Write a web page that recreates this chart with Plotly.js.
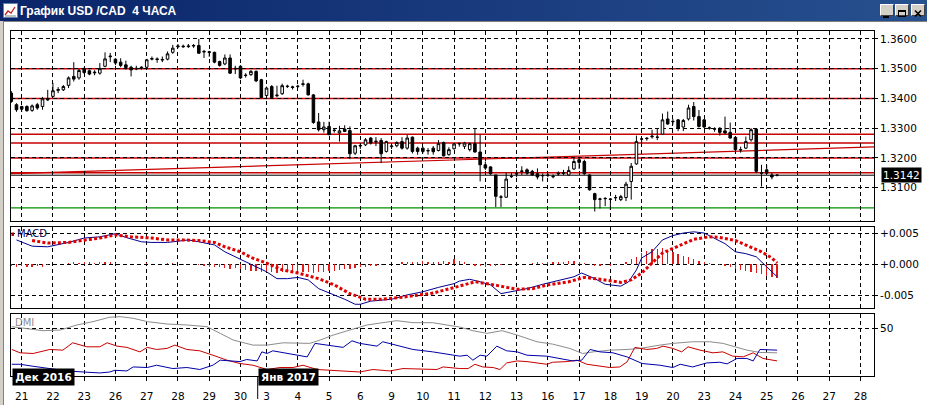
<!DOCTYPE html>
<html>
<head>
<meta charset="utf-8">
<script src="https://cdn.plot.ly/plotly-3.0.1.min.js"></script>
<style>
  html,body{margin:0;padding:0;}
  body{width:927px;height:405px;overflow:hidden;background:#fff;position:relative;}
  #titlebar{position:absolute;left:0;top:0;width:927px;height:21px;background:linear-gradient(to right,#0a246a,#27508f);}
  #leftframe{position:absolute;left:0;top:21px;width:3px;height:384px;background:#d4d0c8;border-right:1px solid #808080;}
  #topline{position:absolute;left:0;top:21px;width:927px;height:1px;background:#808080;}
  #icon{position:absolute;left:3px;top:3px;}
  .btn{position:absolute;top:4px;width:14px;height:12px;background:#d4d0c8;
       border-top:1px solid #fff;border-left:1px solid #fff;border-right:1px solid #404040;border-bottom:1px solid #404040;box-sizing:border-box;}
  #chart{position:absolute;left:0;top:0;width:927px;height:405px;}
</style>
</head>
<body>
<div id="titlebar"></div>
<div id="topline"></div>
<div id="leftframe"></div>
<svg id="icon" width="15" height="15" viewBox="0 0 15 15">
  <rect x="0.5" y="0.5" width="14" height="14" fill="#fff" stroke="#6080b0"/>
  <polyline points="2,12 5,8 8,10 12,4" fill="none" stroke="#d02020" stroke-width="1.3"/>
  <polyline points="2,13 13,13" stroke="#808080" stroke-width="1"/>
</svg>
<div class="btn" style="left:880px;"><svg width="12" height="10"><rect x="2" y="7" width="6" height="2" fill="#000"/></svg></div>
<div class="btn" style="left:895px;"><svg width="12" height="10"><rect x="2.5" y="1.5" width="7" height="6" fill="none" stroke="#000"/><rect x="2" y="1" width="8" height="2" fill="#000"/></svg></div>
<div class="btn" style="left:911px;"><svg width="12" height="10"><path d="M3,1.5 L9,7.5 M9,1.5 L3,7.5" stroke="#000" stroke-width="1.6"/></svg></div>
<div id="chart"></div>
<script>
// ---------- day grid / x tick labels (bar index of first 4H bar of each day) ----------
const dayTicks  = [0,6,12,18,24,30,36,42,47,53,59,65,71,77,83,89,95,101,107,113,119,125,131,137,143,149,155,161];
const dayLabels = ['21','22','23','26','27','28','29','30','3','4','5','6','9','10','11','12','13','16','17','18','19','20','23','24','25','26','27','28'];

// ---------- price axis ----------
const priceTicks  = [1.31,1.32,1.33,1.34,1.35,1.36];
const priceLabels = ['1.3100','1.3200','1.3300','1.3400','1.3500','1.3600'];
const lastPrice = 1.3142;
const redLevels = [1.3500,1.3400,1.3280,1.3250,1.3200,1.3150];
const greenLevel = 1.3032;
const trendX = [-2.25,163.6];
const trendY = [1.3147,1.3237];

// ---------- 4H candles USD/CAD (first bar = 2 bars before Dec 21) ----------
const open = [
1.3418,1.3379,
1.3373,1.3373,1.3360,1.3379,1.3373,1.3395,
1.3407,1.3427,1.3429,1.3444,1.3474,1.3469,
1.3500,1.3493,1.3486,1.3485,1.3508,1.3540,
1.3532,1.3522,1.3513,1.3505,1.3499,1.3501,
1.3505,1.3532,1.3533,1.3529,1.3532,1.3555,
1.3574,1.3576,1.3574,1.3576,1.3578,1.3556,
1.3557,1.3555,1.3524,1.3516,1.3536,1.3499,
1.3508,1.3477,1.3480,1.3491,1.3463,
1.3410,1.3440,1.3409,1.3416,1.3440,1.3439,
1.3440,1.3447,1.3449,1.3412,1.3321,1.3295,
1.3306,1.3292,1.3284,1.3297,1.3292,1.3216,
1.3240,1.3244,1.3267,1.3254,1.3259,1.3222,
1.3238,1.3241,1.3255,1.3233,1.3270,1.3233,
1.3233,1.3225,1.3233,1.3225,1.3252,1.3211,
1.3231,1.3247,1.3239,1.3228,1.3248,1.3220,
1.3177,1.3170,1.3143,1.3068,1.3068,1.3137,
1.3146,1.3155,1.3160,1.3155,1.3147,1.3140,
1.3141,1.3138,1.3146,1.3148,1.3143,1.3163,
1.3194,1.3188,1.3143,1.3080,1.3061,1.3063,
1.3062,1.3066,1.3060,1.3067,1.3121,1.3180,
1.3263,1.3265,1.3271,1.3269,1.3280,1.3331,
1.3322,1.3328,1.3304,1.3331,1.3373,1.3339,
1.3328,1.3300,1.3298,1.3300,1.3291,1.3286,
1.3269,1.3227,1.3233,1.3261,1.3297,1.3150,
1.3160,1.3143,1.3142];
const high = [
1.3425,1.3384,
1.3375,1.3377,1.3380,1.3385,1.3405,1.3429,
1.3452,1.3438,1.3445,1.3474,1.3522,1.3500,
1.3505,1.3497,1.3495,1.3519,1.3555,1.3553,
1.3535,1.3535,1.3527,1.3510,1.3510,1.3508,
1.3533,1.3541,1.3538,1.3541,1.3558,1.3580,
1.3583,1.3581,1.3583,1.3583,1.3600,1.3563,
1.3560,1.3557,1.3527,1.3548,1.3548,1.3510,
1.3512,1.3485,1.3495,1.3494,1.3466,
1.3440,1.3445,1.3443,1.3450,1.3446,1.3443,
1.3446,1.3463,1.3453,1.3415,1.3351,1.3321,
1.3322,1.3300,1.3308,1.3310,1.3306,1.3244,
1.3250,1.3267,1.3270,1.3270,1.3267,1.3258,
1.3245,1.3256,1.3270,1.3278,1.3272,1.3238,
1.3238,1.3233,1.3240,1.3260,1.3255,1.3236,
1.3250,1.3250,1.3254,1.3252,1.3300,1.3278,
1.3188,1.3172,1.3143,1.3075,1.3151,1.3149,
1.3160,1.3172,1.3165,1.3160,1.3165,1.3148,
1.3148,1.3145,1.3155,1.3160,1.3172,1.3199,
1.3200,1.3194,1.3145,1.3083,1.3066,1.3068,
1.3065,1.3076,1.3076,1.3120,1.3183,1.3275,
1.3267,1.3270,1.3295,1.3300,1.3349,1.3356,
1.3331,1.3331,1.3331,1.3379,1.3388,1.3361,
1.3331,1.3306,1.3303,1.3303,1.3339,1.3319,
1.3272,1.3238,1.3272,1.3300,1.3297,1.3177,
1.3177,1.3150,1.3146];
const low = [
1.3385,1.3355,
1.3355,1.3355,1.3355,1.3362,1.3362,1.3392,
1.3403,1.3418,1.3425,1.3435,1.3457,1.3463,
1.3482,1.3478,1.3478,1.3480,1.3505,1.3522,
1.3512,1.3505,1.3497,1.3474,1.3495,1.3497,
1.3500,1.3528,1.3520,1.3522,1.3528,1.3550,
1.3569,1.3570,1.3570,1.3570,1.3550,1.3536,
1.3540,1.3518,1.3507,1.3512,1.3482,1.3482,
1.3465,1.3470,1.3476,1.3455,1.3400,
1.3398,1.3400,1.3404,1.3412,1.3435,1.3430,
1.3435,1.3440,1.3410,1.3315,1.3289,1.3285,
1.3278,1.3285,1.3255,1.3287,1.3196,1.3210,
1.3230,1.3240,1.3245,1.3240,1.3183,1.3218,
1.3230,1.3236,1.3228,1.3228,1.3215,1.3211,
1.3215,1.3211,1.3211,1.3222,1.3205,1.3208,
1.3228,1.3238,1.3230,1.3222,1.3218,1.3121,
1.3160,1.3143,1.3035,1.3035,1.3066,1.3133,
1.3135,1.3143,1.3143,1.3140,1.3128,1.3121,
1.3135,1.3132,1.3140,1.3142,1.3141,1.3160,
1.3163,1.3143,1.3090,1.3020,1.3030,1.3038,
1.3025,1.3055,1.3055,1.3055,1.3060,1.3177,
1.3250,1.3258,1.3265,1.3260,1.3278,1.3312,
1.3312,1.3290,1.3290,1.3326,1.3326,1.3302,
1.3300,1.3295,1.3288,1.3275,1.3280,1.3265,
1.3216,1.3218,1.3230,1.3255,1.3149,1.3104,
1.3146,1.3128,1.3138];
const close = [
1.3390,1.3362,
1.3364,1.3359,1.3375,1.3368,1.3399,1.3397,
1.3426,1.3430,1.3440,1.3469,1.3465,1.3494,
1.3487,1.3482,1.3488,1.3500,1.3533,1.3542,
1.3519,1.3511,1.3504,1.3496,1.3501,1.3505,
1.3530,1.3534,1.3531,1.3531,1.3550,1.3569,
1.3576,1.3574,1.3576,1.3578,1.3552,1.3558,
1.3555,1.3522,1.3511,1.3536,1.3485,1.3501,
1.3469,1.3478,1.3491,1.3459,1.3403,
1.3435,1.3403,1.3411,1.3443,1.3441,1.3437,
1.3441,1.3449,1.3412,1.3319,1.3295,1.3304,
1.3278,1.3293,1.3291,1.3289,1.3214,1.3241,
1.3242,1.3261,1.3250,1.3256,1.3214,1.3255,
1.3240,1.3252,1.3233,1.3267,1.3222,1.3222,
1.3222,1.3224,1.3221,1.3248,1.3207,1.3228,
1.3247,1.3249,1.3250,1.3248,1.3220,1.3177,
1.3166,1.3147,1.3071,1.3069,1.3129,1.3138,
1.3147,1.3156,1.3149,1.3143,1.3136,1.3141,
1.3142,1.3137,1.3148,1.3150,1.3158,1.3188,
1.3185,1.3147,1.3093,1.3060,1.3062,1.3064,
1.3061,1.3067,1.3070,1.3112,1.3172,1.3255,
1.3264,1.3266,1.3273,1.3270,1.3328,1.3314,
1.3323,1.3300,1.3326,1.3368,1.3339,1.3306,
1.3304,1.3301,1.3297,1.3286,1.3284,1.3267,
1.3228,1.3228,1.3255,1.3295,1.3155,1.3149,
1.3149,1.3136,1.3142];

// ---------- MACD ----------
const macdX = [-1,2,5,9,12,15,18,20,23,25,28,32,34,37,39,42,44,47,49,51,53,55,57,60,62,64,65,67,71,74,77,80,83,84,86,88,90,92,94,97,100,103,106,107.5,110,112,115,116.5,118,119,121,123,125,127,129,131,133,135,137,139,141,143,145];
const macdV = [0.0039,0.0029,0.0028,0.0035,0.0042,0.0044,0.0049,0.0043,0.0036,0.0035,0.0035,0.0039,0.0036,0.0031,0.0020,0.0008,-0.0001,-0.0012,-0.0023,-0.0023,-0.0021,-0.0025,-0.0039,-0.0049,-0.0056,-0.0064,-0.0064,-0.0059,-0.0056,-0.0049,-0.0044,-0.0037,-0.0031,-0.0027,-0.0024,-0.0028,-0.0033,-0.0047,-0.0044,-0.0039,-0.0032,-0.0026,-0.0020,-0.0014,-0.0023,-0.0032,-0.0035,-0.0028,-0.0009,0.0010,0.0020,0.0039,0.0046,0.0050,0.0052,0.0050,0.0042,0.0033,0.0020,0.0017,0.0012,-0.0004,-0.0020];
const signalX = [2,5,9,12,15,18,21,25,28,31,34,37,39,42,44,47,50,53,57,60,63,66,69,73,76,79,84,87,90,95,98,101,105,108,111,115,117,119,121,123,126,129,132,134,137,139,142,144,145];
const signalV = [0.0038,0.0034,0.0035,0.0038,0.0042,0.0047,0.0044,0.0042,0.0039,0.0039,0.0038,0.0035,0.0028,0.0020,0.0011,0.0002,-0.0009,-0.0014,-0.0023,-0.0033,-0.0047,-0.0056,-0.0056,-0.0053,-0.0049,-0.0046,-0.0035,-0.0028,-0.0032,-0.0040,-0.0039,-0.0033,-0.0028,-0.0021,-0.0024,-0.0029,-0.0025,-0.0014,0.0002,0.0018,0.0029,0.0040,0.0044,0.0043,0.0038,0.0031,0.0020,0.0010,0.0002];
const histV = [
-0.0003,-0.0004,-0.0002,-0.0004,-0.0005,-0.0003,-0.0004,-0.0001,
0.0000,0.0000,0.0001,
0.0002,0.0003,0.0002,0.0003,0.0003,0.0002,0.0003,0.0004,0.0004,
0.0002,0.0001,0.0001,0.0000,0.0001,
0.0001,0.0002,0.0001,0.0000,0.0001,0.0002,0.0002,0.0001,-0.0001,0.0000,0.0001,-0.0001,
-0.0003,-0.0004,-0.0005,-0.0004,-0.0006,-0.0007,-0.0006,-0.0008,-0.0009,
-0.0010,-0.0011,-0.0012,-0.0013,-0.0012,-0.0014,-0.0013,-0.0012,-0.0013,-0.0011,-0.0012,-0.0013,-0.0014,-0.0013,
-0.0012,-0.0010,-0.0011,-0.0009,-0.0008,-0.0007,-0.0006,-0.0005,-0.0004,
-0.0003,-0.0002,-0.0001,0.0000,0.0001,0.0000,
0.0003,0.0004,0.0003,0.0004,0.0005,0.0004,0.0003,0.0004,0.0005,0.0004,0.0008,0.0005,
0.0003,0.0001,-0.0002,-0.0003,-0.0004,-0.0003,-0.0002,
-0.0001,0.0000,0.0001,0.0000,0.0001,0.0001,
0.0002,0.0003,0.0002,0.0003,0.0004,0.0003,0.0004,0.0005,0.0005,0.0004,0.0002,
-0.0001,-0.0002,-0.0002,-0.0001,-0.0002,-0.0001,0.0000,
0.0004,0.0008,0.0012,
0.0018,0.0022,0.0025,0.0024,0.0026,0.0022,
0.0020,0.0017,0.0014,0.0012,0.0009,0.0006,
0.0003,0.0002,0.0001,-0.0001,
-0.0003,-0.0005,-0.0007,-0.0009,
-0.0010,-0.0012,-0.0014,-0.0016,-0.0018,-0.0020,-0.0022];
const macdTicks  = [0.005,0,-0.005];
const macdLabels = ['+0.005','+0.000','-0.005'];

// ---------- DMI ----------
const adxX = [-1.9,1,4.1,7.4,10.6,13.7,16.9,18.9,21.4,24.1,27.9,31.7,35.6,38.1,40.6,44.4,47.1,50.2,55.3,57.3,59.8,63,66.3,69.3,72,75.1,78.9,81.6,84.1,86.6,89.3,92.2,95.1,98.9,101.9,105.2,107.7,109.7,112.9,116.2,118.7,122.5,125,128.8,132.1,134.6,137.3,139.2,141.7,145];
const adxV = [51.7,50,47.5,48.2,53.5,57,61.6,62.2,60.5,57,54.5,53.5,51.7,44.7,37.7,32.4,32.4,34.8,34.2,37.7,42.9,48.2,53.5,55.9,58,55.9,55.9,53.5,51.3,47.5,44.7,47.5,42.9,35.9,33.4,28.9,23.6,25.3,27.1,27.8,28.9,32.4,34.2,35.9,35.9,34.2,30,27.1,24.7,24.3];
const minusX = [-1.9,-0.3,2.2,5.4,7.9,9.8,12.5,15,16.4,18.3,20.2,22.7,24.1,25.9,27.9,29.4,31.7,34.2,36.7,39.4,41.9,44.4,47.1,49.6,52.1,54,56.7,59.8,63,64.9,67.4,70.7,73.2,77,79.7,80.9,84.1,85.7,87,88.5,90.5,91.8,93.1,95.1,97,100.8,101.9,104.7,106.6,108.5,111,112.9,114.8,116.2,117.7,120,121.9,123.1,125,126.7,127.9,130.2,132.7,134.6,136.5,138.5,140.4,142.3,145];
const minusV = [27.8,24.3,23.6,27.8,27.1,34.8,30.6,30.6,34.8,31.3,30,25.3,30,27.8,28.9,32.4,27.8,26.4,21.8,16.6,13.1,11.3,6.8,8.9,8.9,11.3,6.8,6,5.3,4.2,6.8,5.3,7.8,6.8,6.8,9.5,7.8,7.8,12.3,9.5,8.9,6.8,13.7,15.8,15.1,12.3,14.4,15.1,16.6,12.3,10.2,8.9,9.5,14.8,30,27.8,28.9,31.3,28.9,25.3,30.6,27.1,24.3,25.3,20.8,20.1,24.3,18.4,15.8];
const plusX = [-1.9,-0.3,2.2,5.4,8.7,11.8,15,16.9,17.9,20.2,21.4,24.1,25.9,29,31.7,34.2,36.7,38.1,40.6,41.9,43.2,45.2,46.1,47.1,48.2,50.9,53.4,54.8,56.3,58.6,61.7,63.4,64.9,68.2,69.3,72.6,75.1,78.9,81.6,84.1,85.5,86.6,88,89.3,91.2,93.1,95.1,97,100.8,103.3,105.8,107.5,109.1,111,113.5,116.2,119.1,122.5,125,126.4,128.8,131.5,134,135.4,137.3,139.2,140.4,141.7,143.2,145];
const plusV = [12.3,12.3,10.2,7.8,5.3,4.2,3.2,4.2,6,5.3,9.5,8.9,11.3,7.8,8.9,6.8,11.3,16.6,15.8,15.1,17.3,15.8,25.3,23.6,26.4,23.6,21.8,20,34.2,32.4,30,36.9,34.2,31.3,35.9,31.3,27.8,25.3,22.9,20.8,21.8,16.6,21.8,20.8,31.3,26.4,25.3,21.8,20.8,18.4,15.8,16.6,27.8,25.3,24.3,20,13.1,11.3,8.9,12.3,9.5,13.7,14.4,12.7,18.4,18.4,15.8,27.8,27.8,27.1];
const dmiTicks = [50];
const dmiLabels = ['50'];

// ---------- build ----------
const barX = open.map((_, k) => k - 2);
const W = 927, H = 405;
const xDom = [11/W, 874/W];
const FONT = 'DejaVu Sans';
const grid = {showgrid:true, gridcolor:'#000', gridwidth:1, griddash:'4px,3px',
              showline:true, mirror:true, linecolor:'#000', linewidth:1, zeroline:false, fixedrange:true};
const xRange = [-2.05, 163.6];

const traces = [
  {type:'candlestick', x:barX, open:open, high:high, low:low, close:close, xaxis:'x', yaxis:'y',
   whiskerwidth:0,
   increasing:{line:{color:'#000', width:1}, fillcolor:'#fff'},
   decreasing:{line:{color:'#000', width:1}, fillcolor:'#000'},
   hoverinfo:'skip'},
  {type:'bar', x:barX, y:histV, xaxis:'x2', yaxis:'y2', width:0.24,
   marker:{color:'#e01818', line:{width:0}}, hoverinfo:'skip'},
  {type:'scatter', mode:'lines', x:macdX, y:macdV, xaxis:'x2', yaxis:'y2',
   line:{color:'#000090', width:1}, hoverinfo:'skip'},
  {type:'scatter', mode:'lines', x:signalX, y:signalV, xaxis:'x2', yaxis:'y2',
   line:{color:'#e00000', width:3, dash:'3px,2.2px'}, hoverinfo:'skip'},
  {type:'scatter', mode:'lines', x:adxX, y:adxV, xaxis:'x3', yaxis:'y3',
   line:{color:'#8c8c8c', width:1}, hoverinfo:'skip'},
  {type:'scatter', mode:'lines', x:minusX, y:minusV, xaxis:'x3', yaxis:'y3',
   line:{color:'#c80000', width:1}, hoverinfo:'skip'},
  {type:'scatter', mode:'lines', x:plusX, y:plusV, xaxis:'x3', yaxis:'y3',
   line:{color:'#0000a8', width:1}, hoverinfo:'skip'}
];

const x0 = xRange[0], x1 = xRange[1];
const shapes = [];
redLevels.forEach(v => shapes.push({type:'line', xref:'x', yref:'y', x0:x0, x1:x1, y0:v, y1:v,
  line:{color:'#c80000', width:1.5}, layer:'below'}));
shapes.push({type:'line', xref:'x', yref:'y', x0:x0, x1:x1, y0:lastPrice, y1:lastPrice,
  line:{color:'#000', width:1}, layer:'below'});
shapes.push({type:'line', xref:'x', yref:'y', x0:x0, x1:x1, y0:greenLevel, y1:greenLevel,
  line:{color:'#009000', width:1.2}, layer:'below'});
shapes.push({type:'line', xref:'x', yref:'y', x0:trendX[0], x1:trendX[1], y0:trendY[0], y1:trendY[1],
  line:{color:'#c80000', width:1.2}, layer:'below'});
// month separator tick
shapes.push({type:'line', xref:'paper', yref:'paper', x0:257.7/W, x1:257.7/W, y0:(H-376)/H, y1:(H-399)/H,
  line:{color:'#000', width:1}, layer:'above'});
// small marker before MACD label
shapes.push({type:'rect', xref:'paper', yref:'paper', x0:11.5/W, x1:14/W, y0:(H-236)/H, y1:(H-232.5)/H,
  line:{width:0}, fillcolor:'#b00000', layer:'above'});

const annotations = [
  {text:'MACD', xref:'paper', yref:'paper', x:14.5/W, y:(H-234)/H, xanchor:'left', yanchor:'middle',
   showarrow:false, font:{family:FONT, size:10, color:'#000050'}},
  {text:'DMI', xref:'paper', yref:'paper', x:13/W, y:(H-322)/H, xanchor:'left', yanchor:'middle',
   showarrow:false, font:{family:FONT, size:10, color:'#8c8c8c'}},
  {text:'<b>Дек 2016</b>', xref:'paper', yref:'paper', x:11.7/W, y:(H-377)/H, xanchor:'left', yanchor:'middle',
   showarrow:false, bgcolor:'#000', borderpad:2, width:57, height:12, font:{family:FONT, size:10.5, color:'#fff'}},
  {text:'<b>Янв 2017</b>', xref:'paper', yref:'paper', x:257.7/W, y:(H-377)/H, xanchor:'left', yanchor:'middle',
   showarrow:false, bgcolor:'#000', borderpad:2, width:55, height:12, font:{family:FONT, size:10.5, color:'#fff'}},
  {text:lastPrice.toFixed(4), xref:'paper', yref:'y', x:881/W, y:lastPrice, xanchor:'left', yanchor:'middle',
   showarrow:false, bgcolor:'#000', borderpad:1, font:{family:FONT, size:10.5, color:'#fff'}}
];

const layout = {
  width:W, height:H, margin:{l:0, r:0, t:0, b:0},
  paper_bgcolor:'rgba(0,0,0,0)', plot_bgcolor:'#fff', showlegend:false,
  font:{family:FONT, size:10.5, color:'#000'},
  boxgap:0.3,
  title:{text:'<b>График USD /CAD\u00a0 4 ЧАСА</b>', xref:'container', yref:'container',
         x:20/W, xanchor:'left', y:1-10.5/H, yanchor:'middle',
         font:{family:'Liberation Sans', size:12, color:'#fff'}},
  xaxis:Object.assign({domain:xDom, anchor:'y', range:xRange, tickvals:dayTicks, showticklabels:false, ticks:'',
          rangeslider:{visible:false}}, grid),
  xaxis2:Object.assign({domain:xDom, anchor:'y2', range:xRange, matches:'x', tickvals:dayTicks, showticklabels:false, ticks:''}, grid),
  xaxis3:Object.assign({domain:xDom, anchor:'y3', range:xRange, matches:'x', tickvals:dayTicks, ticktext:dayLabels,
          ticks:'outside', ticklen:4, tickcolor:'#000', ticklabelstandoff:6,
          tickfont:{family:FONT, size:10.5, color:'#000'}}, grid),
  yaxis:Object.assign({domain:[(H-221)/H, (H-31)/H], anchor:'x', side:'right', range:[1.29881,1.36267],
          tickvals:priceTicks, ticktext:priceLabels, ticks:'outside', ticklen:3, tickcolor:'#000',
          tickfont:{family:FONT, size:10.5, color:'#000'}}, grid),
  yaxis2:Object.assign({domain:[(H-308)/H, (H-227)/H], anchor:'x2', side:'right', range:[-0.0070,0.00597],
          tickvals:macdTicks, ticktext:macdLabels, ticks:'outside', ticklen:3, tickcolor:'#000',
          tickfont:{family:FONT, size:10.5, color:'#000'}}, grid),
  yaxis3:Object.assign({domain:[(H-376)/H, (H-314)/H], anchor:'x3', side:'right', range:[0,65],
          tickvals:dmiTicks, ticktext:dmiLabels, ticks:'outside', ticklen:3, tickcolor:'#000',
          tickfont:{family:FONT, size:10.5, color:'#000'}}, grid),
  shapes:shapes,
  annotations:annotations,
  bargap:0
};

Plotly.newPlot('chart', traces, layout, {staticPlot:true, displayModeBar:false});
</script>
</body>
</html>
